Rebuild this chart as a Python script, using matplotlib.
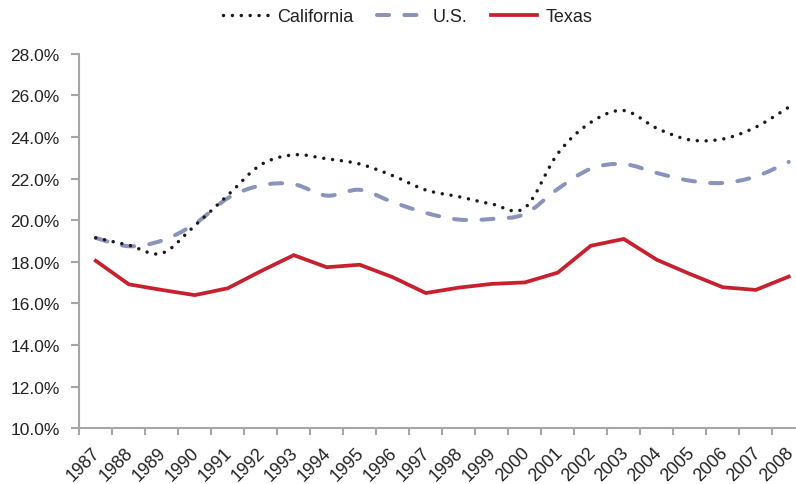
import matplotlib
matplotlib.use("Agg")
import matplotlib.pyplot as plt
import matplotlib.transforms as mtransforms
import numpy as np
from matplotlib.path import Path
from matplotlib.patches import PathPatch
from matplotlib.lines import Line2D

plt.rcParams['font.family'] = ['Liberation Sans', 'DejaVu Sans']

years = [str(y) for y in range(1987, 2009)]
california = [19.15, 18.8, 18.41, 19.74, 21.2, 22.66, 23.14, 22.95, 22.7, 22.14, 21.45,
              21.13, 20.78, 20.59, 23.2, 24.7, 25.27, 24.42, 23.86, 23.9, 24.47, 25.43]
us = [19.15, 18.75, 19.02, 19.82, 21.06, 21.67, 21.73, 21.18, 21.46, 20.87, 20.35,
      20.03, 20.06, 20.3, 21.5, 22.47, 22.7, 22.27, 21.9, 21.79, 22.1, 22.8]
texas = [18.05, 16.92, 16.65, 16.4, 16.73, 17.55, 18.32, 17.74, 17.86, 17.26, 16.5,
         16.76, 16.94, 17.01, 17.48, 18.77, 19.1, 18.1, 17.42, 16.78, 16.65, 17.29]
yticks = [10, 12, 14, 16, 18, 20, 22, 24, 26, 28]

c_cal = '#1a1a1a'
c_us = '#8a94bb'
c_tx = '#c7202f'
spine_c = '#a6a6a6'


def smooth_path(xs, ys):
    pts = np.column_stack([xs, ys]).astype(float)
    n = len(pts)
    verts = [pts[0]]
    codes = [Path.MOVETO]
    for i in range(n - 1):
        p0 = pts[i - 1] if i > 0 else pts[i]
        p1 = pts[i]
        p2 = pts[i + 1]
        p3 = pts[i + 2] if i + 2 < n else pts[i + 1]
        c1 = p1 + (p2 - p0) / 6.0
        c2 = p2 - (p3 - p1) / 6.0
        verts += [c1, c2, p2]
        codes += [Path.CURVE4] * 3
    return Path(verts, codes)


fig = plt.figure(figsize=(7.96, 4.85), dpi=100)
ax = fig.add_axes([0.0996, 0.1148, 0.912, 0.7724])

x = np.arange(len(years))

cal_ls = (0, (0.01, 2.55))
us_ls = (0, (3.0, 3.8))

p_us = PathPatch(smooth_path(x, us), fill=False, edgecolor=c_us, lw=2.9,
                 linestyle=us_ls, capstyle='round', zorder=3)
ax.add_patch(p_us)
p_cal = PathPatch(smooth_path(x, california), fill=False, edgecolor=c_cal, lw=2.5,
                  linestyle=cal_ls, capstyle='round', zorder=4)
ax.add_patch(p_cal)
ax.plot(x, texas, color=c_tx, lw=2.7, solid_joinstyle='miter', zorder=5)

ax.set_xlim(-0.5, len(years) - 0.5)
ax.set_ylim(10, 28)
ax.set_yticks(yticks)
ax.set_yticklabels([f"{v:.1f}%" for v in yticks])
ax.set_xticks(x)
ax.set_xticklabels(years, rotation=45, ha='right', rotation_mode='anchor')
ax.set_xticks(np.arange(-0.5, len(years), 1.0), minor=True)
ax.tick_params(axis='x', which='major', length=0, pad=11, labelsize=12.8, labelcolor='#222222')
ax.tick_params(axis='x', which='minor', length=5, width=1.5, color=spine_c)
ax.tick_params(axis='y', length=6, width=1.5, color=spine_c, labelsize=12.5, pad=8,
               labelcolor='#222222')

shift = mtransforms.ScaledTranslation(-4 / 100, 0, fig.dpi_scale_trans)
for lab in ax.get_xticklabels():
    lab.set_transform(lab.get_transform() + shift)

for s in ['top', 'right']:
    ax.spines[s].set_visible(False)
for s in ['left', 'bottom']:
    ax.spines[s].set_color(spine_c)
    ax.spines[s].set_linewidth(1.5)

handles = [
    Line2D([], [], color=c_cal, lw=2.5, linestyle=cal_ls, dash_capstyle='round'),
    Line2D([], [], color=c_us, lw=2.9, linestyle=us_ls, dash_capstyle='round'),
    Line2D([], [], color=c_tx, lw=2.7),
]
fig.legend(handles, ['California', 'U.S.', 'Texas'], loc='center',
           bbox_to_anchor=(0.512, 0.963), ncol=3, frameon=False, fontsize=13,
           handlelength=2.55, handletextpad=0.5, columnspacing=1.3,
           labelcolor='#222222')

fig.savefig('out.png', dpi=100)
